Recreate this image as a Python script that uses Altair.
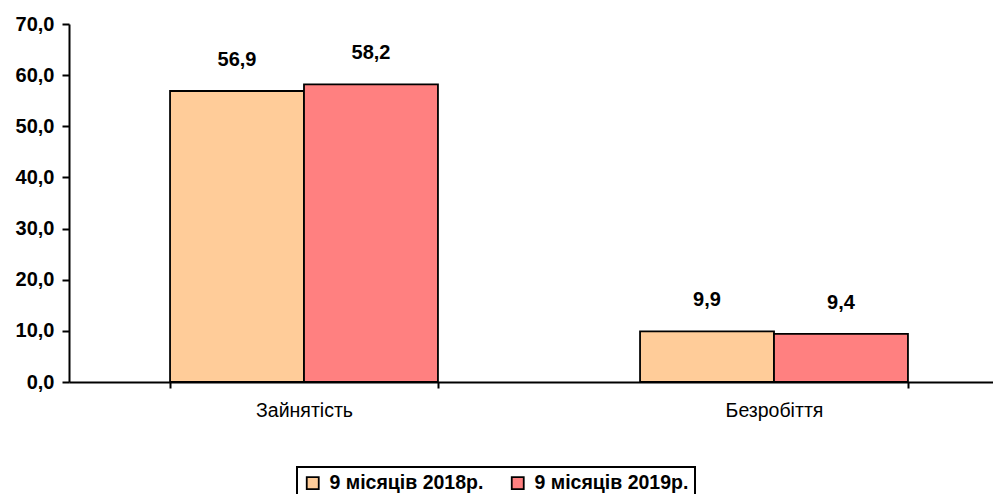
import altair as alt
import pandas as pd

categories = ["Зайнятість", "Безробіття"]
series = ["9 місяців 2018р.", "9 місяців 2019р."]
values_2018 = [56.9, 9.9]
values_2019 = [58.2, 9.4]
colors = ["#FFCC99", "#FF8080"]
y_ticks = [0, 10, 20, 30, 40, 50, 60, 70]

rows = []
for i, c in enumerate(categories):
    for s, vals in zip(series, [values_2018, values_2019]):
        v = vals[i]
        rows.append({"cat": c, "series": s, "value": v,
                     "label": f"{v:.1f}".replace(".", ",")})
df = pd.DataFrame(rows)

FONT = "Arial, Liberation Sans, sans-serif"

x = alt.X("cat:N", sort=categories, title=None,
          scale=alt.Scale(range=[0, 940], paddingInner=0.43, paddingOuter=0.215),
          axis=alt.Axis(labelAngle=0, labelFontSize=19.5, labelFont=FONT,
                        labelColor="black", labelPadding=13, domainColor="black",
                        domainWidth=2, tickColor="black", tickSize=6, tickWidth=2,
                        tickBand="extent"))
xoff = alt.XOffset("series:N", sort=series)
y = alt.Y("value:Q", title=None,
          scale=alt.Scale(domain=[0, 70], nice=False),
          axis=alt.Axis(values=y_ticks, labelExpr="replace(format(datum.value, '.1f'), '.', ',')",
                        labelFontSize=20, labelFontWeight="bold", labelFont=FONT,
                        labelColor="black", labelPadding=8, domainColor="black",
                        domainWidth=2, tickColor="black", tickSize=7, tickWidth=2,
                        grid=False))

bars = alt.Chart(df).mark_bar(stroke="black", strokeWidth=1.8).encode(
    x=x, xOffset=xoff, y=y,
    color=alt.Color("series:N", sort=series,
                    scale=alt.Scale(domain=series, range=colors),
                    legend=alt.Legend(title=None, orient="none", direction="horizontal",
                                      legendX=228, legendY=443, symbolType="square",
                                      symbolSize=144, symbolStrokeColor="black",
                                      symbolStrokeWidth=1.8, labelFontSize=19.5,
                                      labelFontWeight="bold", labelFont=FONT,
                                      labelColor="black", strokeColor="black",
                                      padding=6, columnPadding=24, labelOffset=7,
                                      labelLimit=300)),
)

text = alt.Chart(df).mark_text(dy=-25, fontSize=20, fontWeight="bold", font=FONT,
                               color="black", baseline="alphabetic").encode(
    x=x, xOffset=xoff, y=y, text="label:N"
)

chart = (bars + text).properties(
    width=924, height=358,
    autosize=alt.AutoSizeParams(type="none"),
    padding={"left": 61, "top": 16, "right": 0, "bottom": 112},
).configure_view(stroke=None).configure_legend(strokeWidth=2)

chart.save("out.html", embed_options={"renderer": "svg", "actions": False})
